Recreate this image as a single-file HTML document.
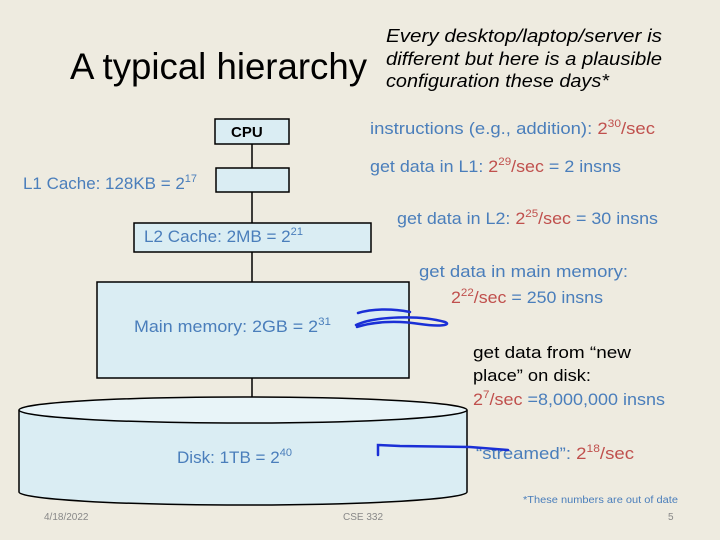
<!DOCTYPE html>
<html><head><meta charset="utf-8"><style>
html,body{margin:0;padding:0;background:#eeebe0;}
svg{display:block;}
text{font-family:"Liberation Sans",sans-serif;}
.b{fill:#4a7ebb;}.r{fill:#c0504d;}
</style></head><body>
<svg width="720" height="540" viewBox="0 0 720 540" xmlns="http://www.w3.org/2000/svg">
<rect width="720" height="540" fill="#eeebe0"/>
<text x="70" y="79" font-size="37" fill="#000" textLength="297" lengthAdjust="spacingAndGlyphs">A typical hierarchy</text>
<g font-size="18" font-style="italic" fill="#000">
<text x="386" y="42" textLength="276" lengthAdjust="spacingAndGlyphs">Every desktop/laptop/server is</text>
<text x="386" y="65" textLength="276" lengthAdjust="spacingAndGlyphs">different but here is a plausible</text>
<text x="386" y="87" textLength="223" lengthAdjust="spacingAndGlyphs">configuration these days*</text>
</g>
<g stroke="#000" stroke-width="1.5">
<line x1="252" y1="144" x2="252" y2="168"/>
<line x1="252" y1="192" x2="252" y2="223"/>
<line x1="252" y1="252" x2="252" y2="282"/>
<line x1="252" y1="378" x2="252" y2="398"/>
<rect x="215" y="119" width="74" height="25" fill="#daedf3"/>
<rect x="216" y="168" width="73" height="24" fill="#daedf3"/>
<rect x="134" y="223" width="237" height="29" fill="#daedf3"/>
<rect x="97" y="282" width="312" height="96" fill="#daedf3"/>
<path d="M19 410 L19 492 A224 13 0 0 0 467 492 L467 410" fill="#daedf3"/>
<ellipse cx="243" cy="410" rx="224" ry="13" fill="#e8f4f8"/>
</g>
<text x="231" y="137" font-size="15" font-weight="bold" fill="#000">CPU</text>
<g font-size="17">
<text x="23" y="189" class="b" textLength="174" lengthAdjust="spacingAndGlyphs">L1 Cache: 128KB = 2<tspan font-size="11" dy="-7">17</tspan></text>
<text x="144" y="242" class="b" textLength="159" lengthAdjust="spacingAndGlyphs">L2 Cache: 2MB = 2<tspan font-size="11" dy="-7">21</tspan></text>
<text x="134" y="332" class="b" textLength="197" lengthAdjust="spacingAndGlyphs">Main memory: 2GB = 2<tspan font-size="11" dy="-7">31</tspan></text>
<text x="177" y="463" class="b" textLength="115" lengthAdjust="spacingAndGlyphs">Disk: 1TB = 2<tspan font-size="11" dy="-7">40</tspan></text>
<text x="370" y="134" class="b" textLength="285" lengthAdjust="spacingAndGlyphs">instructions (e.g., addition): <tspan class="r">2<tspan font-size="11" dy="-7">30</tspan><tspan dy="7">/sec</tspan></tspan></text>
<text x="370" y="172" class="b" textLength="251" lengthAdjust="spacingAndGlyphs">get data in L1: <tspan class="r">2<tspan font-size="11" dy="-7">29</tspan><tspan dy="7">/sec</tspan></tspan> = 2 insns</text>
<text x="397" y="224" class="b" textLength="261" lengthAdjust="spacingAndGlyphs">get data in L2: <tspan class="r">2<tspan font-size="11" dy="-7">25</tspan><tspan dy="7">/sec</tspan></tspan> = 30 insns</text>
<text x="419" y="277" class="b" textLength="209" lengthAdjust="spacingAndGlyphs">get data in main memory:</text>
<text x="451" y="303" class="b" textLength="152" lengthAdjust="spacingAndGlyphs"><tspan class="r">2<tspan font-size="11" dy="-7">22</tspan><tspan dy="7">/sec</tspan></tspan> = 250 insns</text>
<text x="473" y="358" fill="#000" textLength="158" lengthAdjust="spacingAndGlyphs">get data from “new</text>
<text x="473" y="381" fill="#000" textLength="118" lengthAdjust="spacingAndGlyphs">place” on disk:</text>
<text x="473" y="405" class="b" textLength="192" lengthAdjust="spacingAndGlyphs"><tspan class="r">2<tspan font-size="11" dy="-7">7</tspan><tspan dy="7">/sec</tspan></tspan> =8,000,000 insns</text>
<text x="476" y="459" class="b" textLength="158" lengthAdjust="spacingAndGlyphs">“streamed”: <tspan class="r">2<tspan font-size="11" dy="-7">18</tspan><tspan dy="7">/sec</tspan></tspan></text>
</g>
<text x="523" y="503" font-size="10" class="b" textLength="155" lengthAdjust="spacingAndGlyphs">*These numbers are out of date</text>
<g font-size="10" fill="#888">
<text x="44" y="520">4/18/2022</text>
<text x="343" y="520">CSE 332</text>
<text x="668" y="520">5</text>
</g>
<g stroke="#1a2fd6" stroke-width="2.5" fill="none" stroke-linecap="round">
<path d="M358 313 C375 308 395 309 410 312"/>
<path d="M356 325 C375 316 420 315 445 322 C452 325 440 327 420 324 C395 320 372 322 357 327"/>
<path d="M378 455 L378 445 L400 446 L470 447 L508 450"/>
</g>
</svg>
</body></html>
